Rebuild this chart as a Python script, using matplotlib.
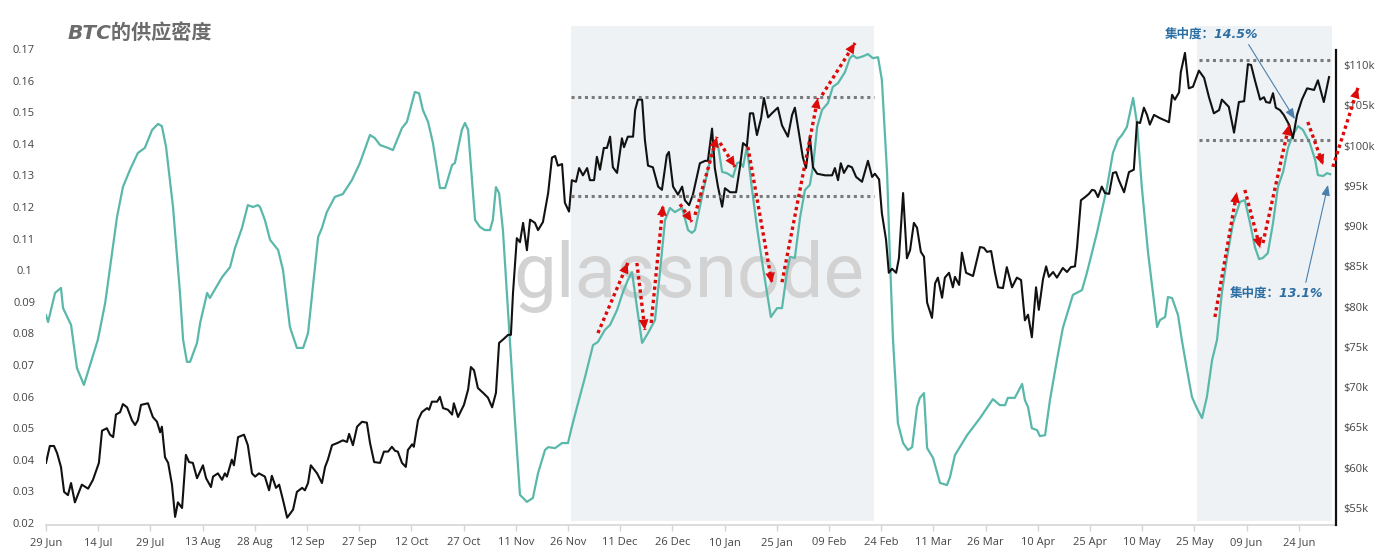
import pandas as pd
import matplotlib
matplotlib.use('Agg')
import matplotlib.pyplot as plt

plt.rcParams['font.family'] = ['Open Sans', 'Noto Sans CJK SC', 'DejaVu Sans']

start = pd.Timestamp('2024-06-29')

# 供应集中度 (左轴)：(距 2024-06-29 的天数, 数值)
conc_points = [
    (0.0, 0.0858), (0.6, 0.0836), (2.6, 0.0928), (4.3, 0.0944), (4.9, 0.0880), (7.2, 0.0827),
    (8.9, 0.0690), (10.9, 0.0637), (14.9, 0.0780), (17.0, 0.0896), (20.4, 0.1168), (22.1, 0.1263),
    (24.1, 0.1317), (26.4, 0.1371), (28.4, 0.1387), (30.5, 0.1444), (32.2, 0.1463), (33.3, 0.1456),
    (34.5, 0.1390), (36.5, 0.1200), (38.5, 0.0928), (39.4, 0.0780), (40.5, 0.0710), (41.4, 0.0710),
    (43.4, 0.0770), (44.3, 0.0833), (46.3, 0.0928), (47.1, 0.0912), (50.6, 0.0978), (52.9, 0.1010),
    (54.3, 0.1070), (56.3, 0.1133), (58.0, 0.1206), (59.5, 0.1200), (60.9, 0.1206), (61.5, 0.1200),
    (62.9, 0.1159), (64.4, 0.1096), (66.7, 0.1064), (68.1, 0.1001), (70.1, 0.0820), (72.1, 0.0754),
    (73.9, 0.0754), (75.3, 0.0801), (78.2, 0.1105), (79.3, 0.1134), (80.7, 0.1184), (83.0, 0.1232),
    (85.3, 0.1241), (87.9, 0.1285), (90.2, 0.1339), (93.1, 0.1428), (94.5, 0.1418), (96.0, 0.1396),
    (98.3, 0.1387), (99.7, 0.1380), (102.3, 0.1450), (103.7, 0.1469), (106.0, 0.1564), (107.2, 0.1560),
    (108.3, 0.1507), (109.8, 0.1469), (111.2, 0.1402), (113.2, 0.1260), (114.7, 0.1260), (116.7, 0.1333),
    (117.5, 0.1339), (119.5, 0.1444), (120.4, 0.1466), (121.3, 0.1444), (123.3, 0.1159), (124.7, 0.1137),
    (126.1, 0.1127), (127.6, 0.1127), (128.4, 0.1159), (129.3, 0.1263), (130.2, 0.1244), (131.3, 0.1127),
    (133.3, 0.0780), (134.8, 0.0516), (136.2, 0.0289), (138.2, 0.0267), (139.9, 0.0279), (141.4, 0.0358),
    (143.4, 0.0431), (144.3, 0.0440), (146.3, 0.0437), (148.3, 0.0453), (150.0, 0.0453), (151.1, 0.0504),
    (152.6, 0.0567), (154.9, 0.0662), (157.2, 0.0763), (158.6, 0.0773), (160.6, 0.0811), (162.1, 0.0827),
    (164.1, 0.0874), (165.8, 0.0931), (167.2, 0.0969), (168.4, 0.0994), (169.8, 0.0884), (171.3, 0.0770),
    (173.0, 0.0801), (175.0, 0.0842), (176.4, 0.0991), (177.9, 0.1159), (179.3, 0.1197), (180.7, 0.1184),
    (182.8, 0.1197), (184.5, 0.1127), (185.6, 0.1118), (186.5, 0.1127), (188.5, 0.1232), (190.2, 0.1317),
    (191.7, 0.1390), (193.1, 0.1396), (194.3, 0.1311), (195.7, 0.1307), (197.4, 0.1295), (198.6, 0.1339),
    (199.4, 0.1342), (200.3, 0.1327), (201.4, 0.1390), (202.9, 0.1254), (204.3, 0.1137), (205.7, 0.1032),
    (207.2, 0.0928), (208.3, 0.0852), (210.1, 0.0880), (211.5, 0.0880), (212.9, 0.0991), (213.8, 0.1042),
    (215.2, 0.1039), (216.7, 0.1168), (218.1, 0.1254), (219.5, 0.1270), (220.4, 0.1327), (221.6, 0.1453),
    (223.0, 0.1507), (224.7, 0.1529), (226.1, 0.1580), (227.6, 0.1592), (229.6, 0.1627), (231.0, 0.1671),
    (231.9, 0.1680), (233.0, 0.1671), (234.8, 0.1677), (236.2, 0.1684), (237.6, 0.1671), (239.1, 0.1674),
    (240.2, 0.1602), (241.7, 0.1307), (242.5, 0.1042), (243.4, 0.0780), (244.8, 0.0516), (246.3, 0.0453),
    (247.7, 0.0431), (248.9, 0.0440), (250.3, 0.0567), (251.1, 0.0596), (252.3, 0.0611), (253.2, 0.0437),
    (254.9, 0.0406), (256.9, 0.0327), (258.9, 0.0320), (259.8, 0.0346), (261.2, 0.0415), (264.7, 0.0478),
    (268.4, 0.0532), (272.1, 0.0592), (274.1, 0.0573), (275.6, 0.0573), (276.4, 0.0596), (278.4, 0.0596),
    (280.5, 0.0640), (281.3, 0.0589), (282.2, 0.0567), (283.3, 0.0500), (284.8, 0.0494), (285.6, 0.0475),
    (287.1, 0.0478), (288.5, 0.0589), (290.5, 0.0716), (292.2, 0.0817), (295.1, 0.0922), (297.7, 0.0937),
    (299.1, 0.0991), (302.0, 0.1118), (304.9, 0.1263), (306.6, 0.1371), (308.0, 0.1412), (309.2, 0.1428),
    (310.6, 0.1453), (312.4, 0.1545), (313.5, 0.1466), (314.9, 0.1263), (316.7, 0.1054), (319.3, 0.0820),
    (320.1, 0.0842), (321.6, 0.0852), (322.4, 0.0915), (323.6, 0.0912), (325.3, 0.0858), (326.4, 0.0779),
    (327.9, 0.0684), (329.3, 0.0599), (330.7, 0.0564), (332.2, 0.0532), (333.6, 0.0599), (335.1, 0.0716),
    (336.5, 0.0779), (337.9, 0.0928), (339.4, 0.1042), (341.1, 0.1149), (343.1, 0.1216), (344.5, 0.1222),
    (346.0, 0.1149), (347.4, 0.1073), (348.6, 0.1035), (349.7, 0.1039), (351.1, 0.1054), (352.6, 0.1149),
    (354.0, 0.1263), (355.5, 0.1311), (356.9, 0.1387), (358.3, 0.1428), (359.8, 0.1456), (361.2, 0.1444),
    (363.2, 0.1402), (364.7, 0.1349), (365.5, 0.1301), (367.0, 0.1298), (368.1, 0.1307), (369.0, 0.1304),
]

# BTC 价格 (右轴, 千美元)
price_points = [
    (0.0, 60.6), (1.1, 62.7), (2.3, 62.7), (3.2, 61.8), (4.3, 60.1), (5.2, 57.0), (6.3, 56.6),
    (7.2, 58.1), (8.3, 55.7), (10.3, 57.9), (12.1, 57.4), (13.5, 58.5), (15.2, 60.6), (16.1, 64.6),
    (17.5, 64.9), (18.4, 64.1), (19.3, 63.8), (20.1, 66.6), (21.3, 66.9), (22.1, 67.9), (23.3, 67.5),
    (24.7, 65.9), (25.6, 65.3), (26.4, 65.9), (27.3, 67.8), (29.3, 68.0), (30.7, 66.3), (31.9, 65.7),
    (32.8, 64.4), (33.3, 65.1), (34.2, 61.3), (35.1, 60.6), (36.2, 57.9), (37.1, 53.9), (37.9, 55.7),
    (39.1, 55.0), (40.2, 61.6), (41.1, 60.7), (42.2, 60.6), (43.4, 58.7), (45.1, 60.3), (46.0, 58.7),
    (47.4, 57.6), (48.0, 58.9), (49.4, 59.3), (50.6, 58.5), (51.4, 59.3), (52.0, 58.9), (53.4, 61.0),
    (54.0, 60.3), (55.2, 63.8), (56.9, 64.1), (58.0, 62.8), (59.2, 59.3), (60.1, 58.9), (61.2, 59.3),
    (62.9, 58.9), (64.1, 57.2), (64.9, 59.0), (66.1, 57.5), (67.0, 57.9), (68.1, 56.0), (69.3, 53.8),
    (71.0, 54.8), (72.1, 57.0), (73.6, 57.5), (74.4, 57.2), (75.3, 58.1), (76.1, 60.3), (77.9, 59.3),
    (79.3, 58.1), (80.2, 60.1), (81.0, 61.0), (82.2, 62.8), (83.9, 63.1), (85.3, 63.4), (86.5, 63.2),
    (87.1, 64.2), (88.2, 62.8), (89.4, 65.1), (90.8, 65.7), (92.2, 65.6), (93.1, 63.1), (94.3, 60.7),
    (96.0, 60.6), (97.1, 62.0), (98.3, 62.0), (99.4, 62.6), (100.3, 62.1), (101.1, 62.0), (102.3, 60.6),
    (103.4, 60.1), (104.0, 62.2), (105.2, 62.9), (105.7, 62.6), (106.9, 65.9), (108.0, 66.9), (109.5, 67.4),
    (110.1, 67.2), (110.9, 68.2), (112.4, 68.2), (113.2, 68.8), (114.1, 67.4), (115.5, 67.2), (116.7, 66.6),
    (117.2, 68.0), (118.4, 66.3), (120.1, 67.8), (121.3, 69.7), (122.1, 72.5), (123.0, 72.1), (124.1, 69.9),
    (125.6, 69.3), (127.0, 68.7), (128.2, 67.5), (129.3, 69.3), (130.2, 75.5), (131.3, 75.9), (132.8, 76.5),
    (133.6, 76.5), (134.2, 81.7), (135.3, 88.5), (136.2, 88.0), (137.1, 90.4), (138.2, 87.0), (139.1, 90.8),
    (140.5, 90.4), (141.4, 89.5), (142.8, 90.5), (144.3, 94.1), (145.4, 98.5), (146.3, 98.7), (147.1, 97.5),
    (148.3, 97.7), (149.1, 92.9), (150.3, 91.8), (151.1, 95.7), (152.3, 95.5), (153.2, 97.2), (154.3, 96.3),
    (155.5, 97.2), (156.3, 95.7), (157.5, 95.7), (158.3, 98.6), (159.2, 97.0), (160.3, 99.7), (161.2, 99.7),
    (162.1, 101.1), (162.9, 97.3), (164.1, 96.6), (165.5, 100.9), (166.1, 99.8), (167.2, 101.1),
    (168.7, 101.1), (169.3, 104.4), (170.1, 105.7), (171.3, 105.7), (172.1, 100.7), (173.0, 97.5),
    (174.4, 97.3), (175.9, 94.9), (177.0, 94.5), (178.4, 98.8), (179.0, 99.2), (180.2, 94.9), (181.6, 93.9),
    (182.8, 94.9), (183.6, 93.2), (184.8, 92.6), (185.9, 93.9), (187.9, 97.8), (189.4, 98.1), (190.2, 98.1),
    (191.4, 102.1), (192.2, 97.2), (193.1, 94.9), (194.3, 92.4), (195.1, 94.7), (196.6, 94.2), (198.3, 94.2),
    (199.4, 97.3), (200.3, 100.3), (201.4, 99.9), (202.3, 104.0), (203.2, 104.0), (204.3, 101.3),
    (205.5, 103.4), (206.3, 105.9), (207.5, 103.5), (208.6, 104.0), (210.3, 104.7), (211.5, 102.5),
    (213.2, 101.1), (214.4, 103.8), (215.2, 104.7), (216.7, 100.7), (217.5, 98.5), (218.4, 97.2),
    (219.5, 101.1), (220.4, 97.3), (221.6, 96.5), (223.9, 96.3), (225.9, 96.3), (226.7, 97.2), (227.6, 95.7),
    (228.4, 97.8), (229.3, 96.6), (230.5, 97.5), (231.6, 97.3), (232.8, 96.1), (234.5, 95.5), (236.2, 98.1),
    (237.4, 96.1), (238.2, 96.5), (239.4, 95.8), (240.2, 91.6), (241.4, 88.3), (242.2, 84.2), (243.1, 84.7),
    (244.3, 84.2), (245.1, 86.0), (246.3, 94.1), (247.4, 86.0), (248.3, 87.0), (249.4, 90.4), (250.3, 89.8),
    (251.4, 86.8), (252.3, 86.2), (253.2, 80.5), (254.6, 78.6), (255.5, 82.9), (256.3, 83.6), (257.5, 81.1),
    (258.3, 83.6), (259.5, 84.2), (260.6, 82.4), (261.2, 83.7), (262.4, 82.7), (263.2, 86.7), (264.4, 84.2),
    (266.4, 83.8), (268.4, 87.4), (269.5, 87.3), (270.4, 86.8), (271.6, 86.9), (272.7, 84.2), (273.6, 82.4),
    (275.0, 82.3), (276.1, 84.9), (277.6, 82.4), (279.0, 83.6), (280.2, 83.3), (281.3, 78.3), (282.2, 79.0),
    (283.3, 76.2), (284.5, 82.4), (285.3, 79.6), (286.5, 83.4), (287.4, 85.0), (288.2, 83.7), (289.4, 84.3),
    (290.5, 83.6), (292.2, 84.8), (293.4, 84.3), (294.5, 84.9), (295.7, 85.0), (296.3, 87.4), (297.4, 93.2),
    (298.6, 93.6), (299.7, 94.0), (300.6, 94.5), (301.4, 94.4), (302.3, 93.6), (303.4, 94.9), (304.3, 94.1),
    (305.5, 94.0), (306.6, 96.6), (307.5, 96.7), (308.3, 95.7), (309.8, 94.2), (311.2, 96.7), (312.6, 97.0),
    (313.5, 102.9), (314.4, 102.8), (315.5, 104.7), (316.4, 103.8), (317.2, 102.6), (318.4, 103.8),
    (320.1, 103.4), (322.7, 102.9), (323.6, 106.3), (324.4, 105.7), (325.6, 106.6), (326.1, 109.1),
    (327.3, 111.5), (328.4, 107.1), (329.6, 107.3), (331.3, 109.3), (332.8, 108.4), (334.2, 106.0),
    (335.6, 104.0), (337.1, 104.4), (337.9, 105.7), (339.9, 104.8), (341.4, 101.6), (342.8, 105.4),
    (344.3, 105.5), (345.4, 110.1), (346.3, 110.0), (347.4, 108.1), (348.9, 105.7), (350.0, 106.0),
    (350.6, 105.4), (351.7, 105.3), (352.6, 106.5), (353.4, 104.7), (354.6, 104.4), (355.7, 103.8),
    (357.2, 102.6), (358.3, 100.9), (359.5, 103.8), (360.9, 105.7), (362.4, 107.1), (364.4, 106.9),
    (365.5, 108.1), (367.2, 105.4), (368.7, 108.5),
]

# 阴影区间 (天数)
shade_ranges = [(150.9, 237.9), (330.7, 369.6)]
# 价格水平虚线：(起始天, 结束天, 千美元)
level_lines = [(150.9, 237.9, 106.0), (150.9, 237.9, 93.7), (331.3, 369.8, 110.6), (331.3, 369.8, 100.7)]
# 红色虚线箭头：(起点天, 起点值, 终点天, 终点值)，左轴单位
red_arrows = [
    (158.6, 0.0801, 167.2, 0.1023), (169.8, 0.1023, 172.1, 0.0811), (173.9, 0.0833, 177.3, 0.1206),
    (182.2, 0.1209, 185.6, 0.1153), (186.5, 0.1175, 192.8, 0.1422), (193.7, 0.1403, 198.0, 0.1327),
    (201.7, 0.1390, 208.6, 0.0959), (211.5, 0.0962, 221.8, 0.1545), (223.0, 0.1554, 232.5, 0.1719),
    (335.9, 0.0852, 342.2, 0.1247), (344.5, 0.1254, 348.9, 0.1070), (349.7, 0.1086, 357.2, 0.1460),
    (362.6, 0.1469, 367.0, 0.1333), (369.8, 0.1327, 377.0, 0.1577),
]
# 注释：(文字, 文字位置天, 文字位置值, 箭头天, 箭头值)
notes = [('集中度：14.5%', 334.8, 0.1747, 358.9, 0.1478), ('集中度：13.1%', 353.7, 0.0928, 368.4, 0.1270)]

tick_days = list(range(0, 361, 15))
left_ticks = [0.02, 0.03, 0.04, 0.05, 0.06, 0.07, 0.08, 0.09, 0.1, 0.11, 0.12, 0.13, 0.14, 0.15, 0.16, 0.17]
right_ticks = list(range(55, 111, 5))


def to_date(d):
    return start + pd.to_timedelta(d, unit='D')


conc_days, conc_vals = zip(*conc_points)
price_days, price_vals = zip(*price_points)

fig = plt.figure(figsize=(13.77, 5.6), dpi=100)
ax = fig.add_axes([46 / 1377, 35 / 560, 1290 / 1377, 499 / 560])
ax2 = ax.twinx()

for a, b in shade_ranges:
    ax.axvspan(to_date(a), to_date(b), ymin=0.008, ymax=1, color='#eef2f5', lw=0, zorder=0)

ax.text(to_date(184.8), 0.0915, 'glassnode', family='Roboto', fontsize=55, color='#d2d2d2',
        ha='center', va='baseline', zorder=0.5)

ax.plot(to_date(pd.Series(conc_days)), conc_vals, color='#5ab8aa', lw=1.6, zorder=2)
ax2.plot(to_date(pd.Series(price_days)), price_vals, color='#111111', lw=1.5, zorder=2)

for a, b, lvl in level_lines:
    ax2.plot([to_date(a), to_date(b)], [lvl, lvl], color='#7a7a7a', lw=2.2,
             linestyle=(0, (1, 1.2)), zorder=3)

red = '#dd0a0a'
for x0, y0, x1, y1 in red_arrows:
    p0 = (matplotlib.dates.date2num(to_date(x0)), y0)
    p1 = (matplotlib.dates.date2num(to_date(x1)), y1)
    ax2.plot([p0[0], p1[0]], [p0[1], p1[1]], color=red, lw=2.4, linestyle=(0, (1, 1)),
             transform=ax.transData, zorder=5, clip_on=False)
    ax2.annotate('', xy=p1, xytext=p0, xycoords=ax.transData, textcoords=ax.transData,
                 arrowprops=dict(arrowstyle='-|>,head_length=0.75,head_width=0.35', color=red,
                                 lw=0, shrinkA=0, shrinkB=0), zorder=6, annotation_clip=False)

for (txt, tx, ty, hx, hy), rel in zip(notes, [(0.85, 0.3), (0.8, 1.0)]):
    ax2.annotate(txt, xy=(matplotlib.dates.date2num(to_date(hx)), hy),
                 xytext=(matplotlib.dates.date2num(to_date(tx)), ty),
                 xycoords=ax.transData, textcoords=ax.transData, ha='center', va='center',
                 fontsize=9, fontweight='bold', style='italic', color='#2b6ea3',
                 family=['DejaVu Sans', 'Noto Sans CJK SC'], zorder=7, annotation_clip=False,
                 arrowprops=dict(arrowstyle='-|>,head_length=0.7,head_width=0.28', color='#4a80ad',
                                 lw=0.8, shrinkA=1, shrinkB=0, relpos=rel))

ax.set_xlim(to_date(0), to_date(370.7))
ax.set_ylim(0.01937, 0.17728)
ax2.set_ylim(52.89, 114.84)

ax.set_xticks([to_date(d) for d in tick_days])
ax.set_xticklabels([to_date(d).strftime('%d %b') for d in tick_days])
ax.tick_params(axis='x', length=4, color='#d5d5d5', width=1, labelsize=8, labelcolor='#444444', pad=4.5)

ax.set_yticks(left_ticks)
ax.set_yticklabels([f'{v:g}' for v in left_ticks])
ax.tick_params(axis='y', length=0, pad=15.8, labelsize=8, labelcolor='#444444')
for lab in ax.get_yticklabels():
    lab.set_horizontalalignment('center')

ax2.set_yticks(right_ticks)
ax2.set_yticklabels([f'\\${v}k' for v in right_ticks])
ax2.tick_params(axis='y', length=0, pad=5, labelsize=8, labelcolor='#444444')

for s in ['top', 'left', 'right']:
    ax.spines[s].set_visible(False)
for s in ['top', 'left', 'bottom']:
    ax2.spines[s].set_visible(False)
ax.spines['bottom'].set_color('#d5d5d5')
ax.spines['bottom'].set_linewidth(1.2)
ax2.spines['right'].set_color('#111111')
ax2.spines['right'].set_linewidth(1.6)
ax2.spines['right'].set_bounds(52.89, 111.9)

fig.text(68 / 1377, 1 - 33 / 560, 'BTC的供应密度', ha='left', va='center', fontsize=14.5,
         fontweight='bold', style='italic', color='#6b6b6b', family=['DejaVu Sans', 'Noto Sans CJK SC'])

fig.savefig('out.png', dpi=100, facecolor='white')
